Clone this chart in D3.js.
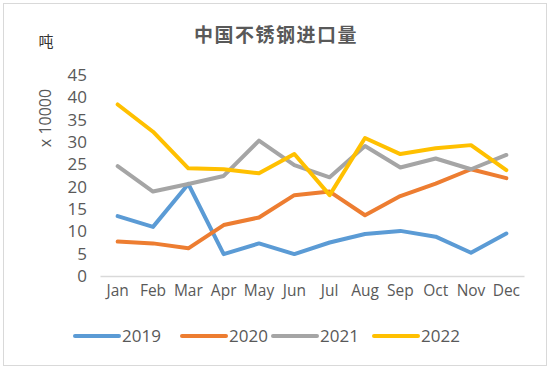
<!DOCTYPE html>
<html><head><meta charset="utf-8">
<script src="https://cdn.jsdelivr.net/npm/d3@7"></script>
<style>body{margin:0;background:#fff}svg{display:block}</style>
</head><body>
<svg id="c" width="550" height="369"></svg>
<script>
const months = ["Jan","Feb","Mar","Apr","May","Jun","Jul","Aug","Sep","Oct","Nov","Dec"];
const years = ["2019","2020","2021","2022"];
const v2019 = [13.4,11.0,20.6,4.9,7.3,4.9,7.5,9.4,10.1,8.8,5.2,9.5];
const v2020 = [7.7,7.3,6.2,11.4,13.1,18.1,18.9,13.6,17.9,20.7,23.9,21.9];
const v2021 = [24.6,18.9,20.6,22.4,30.3,24.8,22.1,29.1,24.3,26.3,23.9,27.1];
const v2022 = [38.4,32.3,24.1,23.9,23.0,27.3,18.1,30.9,27.3,28.6,29.3,23.7];
const yTicks = [0,5,10,15,20,25,30,35,40,45];
const colors = ["#5B9BD5","#ED7D31","#A5A5A5","#FFC000"];
const series = [v2019,v2020,v2021,v2022];

const svg = d3.select("#c");
svg.append("rect").attr("x",3.5).attr("y",3.5).attr("width",543).attr("height",362)
  .attr("fill","#fff").attr("stroke","#d9d9d9").attr("stroke-width",1);

const x = d3.scaleBand().domain(months).range([100,524]);
const y = d3.scaleLinear().domain([0,45]).range([276,75]);
const font = "'Open Sans', sans-serif";

svg.append("text").attr("x",276).attr("y",42).attr("text-anchor","middle")
  .attr("font-family","'Noto Sans CJK SC', sans-serif").attr("font-weight","bold")
  .attr("font-size",19).attr("letter-spacing",1.5).attr("fill","#595959").text("中国不锈钢进口量");
svg.append("text").attr("x",46).attr("y",47).attr("text-anchor","middle")
  .attr("font-family","'Noto Sans CJK SC', sans-serif").attr("font-size",15).attr("fill","#333").text("吨");
svg.append("text").attr("transform","translate(51,118) rotate(-90)").attr("text-anchor","middle")
  .attr("font-family",font).attr("font-size",16).attr("fill","#595959").text("x 10000");

// y axis labels
const ya = svg.append("g").attr("transform","translate(87,0)")
  .call(d3.axisLeft(y).tickValues(yTicks).tickSize(0).tickPadding(0));
ya.select(".domain").remove();
ya.selectAll("text").attr("font-family",font).attr("font-size",17).attr("fill","#595959");

// x axis
const xa = svg.append("g").attr("transform","translate(0,276)")
  .call(d3.axisBottom(x).tickSize(0).tickPadding(9));
xa.select(".domain").attr("stroke","#d9d9d9").attr("stroke-width",1.5);
xa.selectAll("text").attr("font-family",font).attr("font-size",15.5).attr("fill","#595959");

const line = d3.line().x((d,i)=>x(months[i])+x.bandwidth()/2).y(d=>y(d));
series.forEach((s,k)=>{
  svg.append("path").datum(s).attr("d",line).attr("fill","none")
    .attr("stroke",colors[k]).attr("stroke-width",4).attr("stroke-linejoin","round").attr("stroke-linecap","round");
});

// legend
const lx = [75,182,273,374];
years.forEach((yr,k)=>{
  const g = svg.append("g").attr("transform",`translate(${lx[k]},336)`);
  g.append("line").attr("x1",0).attr("x2",44).attr("y1",0).attr("y2",0)
    .attr("stroke",colors[k]).attr("stroke-width",4).attr("stroke-linecap","round");
  g.append("text").attr("x",47).attr("y",6).attr("font-family",font).attr("font-size",17)
    .attr("fill","#595959").text(yr);
});
</script>
</body></html>
